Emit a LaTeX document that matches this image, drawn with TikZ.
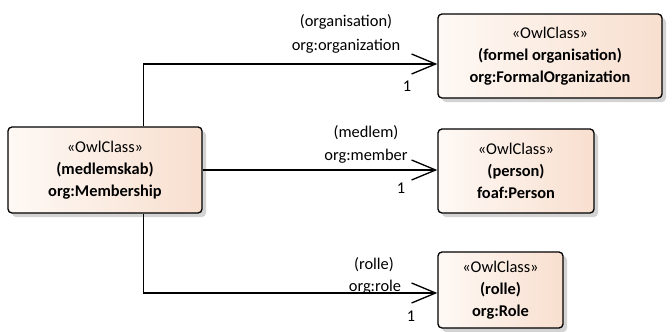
\documentclass[tikz,border=0pt]{standalone}
\usepackage{fontspec}
\setmainfont{Carlito}
\usetikzlibrary{arrows.meta,shadows,calc}
\definecolor{boxl}{HTML}{FEF9F5}
\definecolor{boxr}{HTML}{F8DFCF}
\definecolor{shad}{HTML}{C8C8C8}
\tikzset{
  cls/.style={draw=black, line width=1pt, rounded corners=3pt,
    left color=boxl, right color=boxr,
    drop shadow={shadow xshift=3pt, shadow yshift=-3pt, fill=shad, opacity=0.8},
    align=center, inner sep=0pt,
    font=\fontsize{12.3pt}{16.3pt}\selectfont},
  conn/.style={line width=1pt, -{Straight Barb[length=18pt,width=15pt,line width=1pt]}},
  lbl/.style={inner sep=0pt, font=\fontsize{12.3pt}{16.3pt}\selectfont},
}
\begin{document}
\begin{tikzpicture}[x=0.75pt,y=-0.75pt]
\useasboundingbox (0,0) rectangle (672,332);
\node[cls, minimum width=145.5pt, minimum height=64.5pt] (mem) at (105,170)
  {«OwlClass»\\\textbf{(medlemskab)}\\\textbf{org:Membership}};
\node[cls, minimum width=168pt, minimum height=63pt] (fo) at (550,56)
  {«OwlClass»\\\textbf{(formel organisation)}\\\textbf{org:FormalOrganization}};
\node[cls, minimum width=117pt, minimum height=63pt] (per) at (516,171)
  {«OwlClass»\\\textbf{(person)}\\\textbf{foaf:Person}};
\node[cls, minimum width=93.75pt, minimum height=57pt] (rol) at (500.5,290)
  {«OwlClass»\\\textbf{(rolle)}\\\textbf{org:Role}};

\coordinate (mtop) at ($(mem.north west)+(136,0)$);
\coordinate (mbot) at ($(mem.south west)+(136,0)$);
\coordinate (foin) at ($(fo.west)+(0,8)$);
\coordinate (rolin) at ($(rol.west)+(0,3)$);

\draw[conn] (mtop) |- (foin);
\draw[conn] (mem.east) -- (mem.east -| per.west);
\draw[conn] (mbot) |- (rolin);

\node[lbl] (l1a) at (346,22) {(organisation)};
\node[lbl] (l1b) at (346,46) {org:organization};
\node[lbl] (l1c) at (407,86) {1};
\node[lbl] (l2a) at (366,133) {(medlem)};
\node[lbl] (l2b) at (366,156) {org:member};
\node[lbl] (l2c) at (401,188) {1};
\node[lbl] (l3a) at (374,265) {(rolle)};
\node[lbl] (l3b) at (375,287) {org:role};
\node[lbl] (l3c) at (411,316) {1};
\end{tikzpicture}
\end{document}
